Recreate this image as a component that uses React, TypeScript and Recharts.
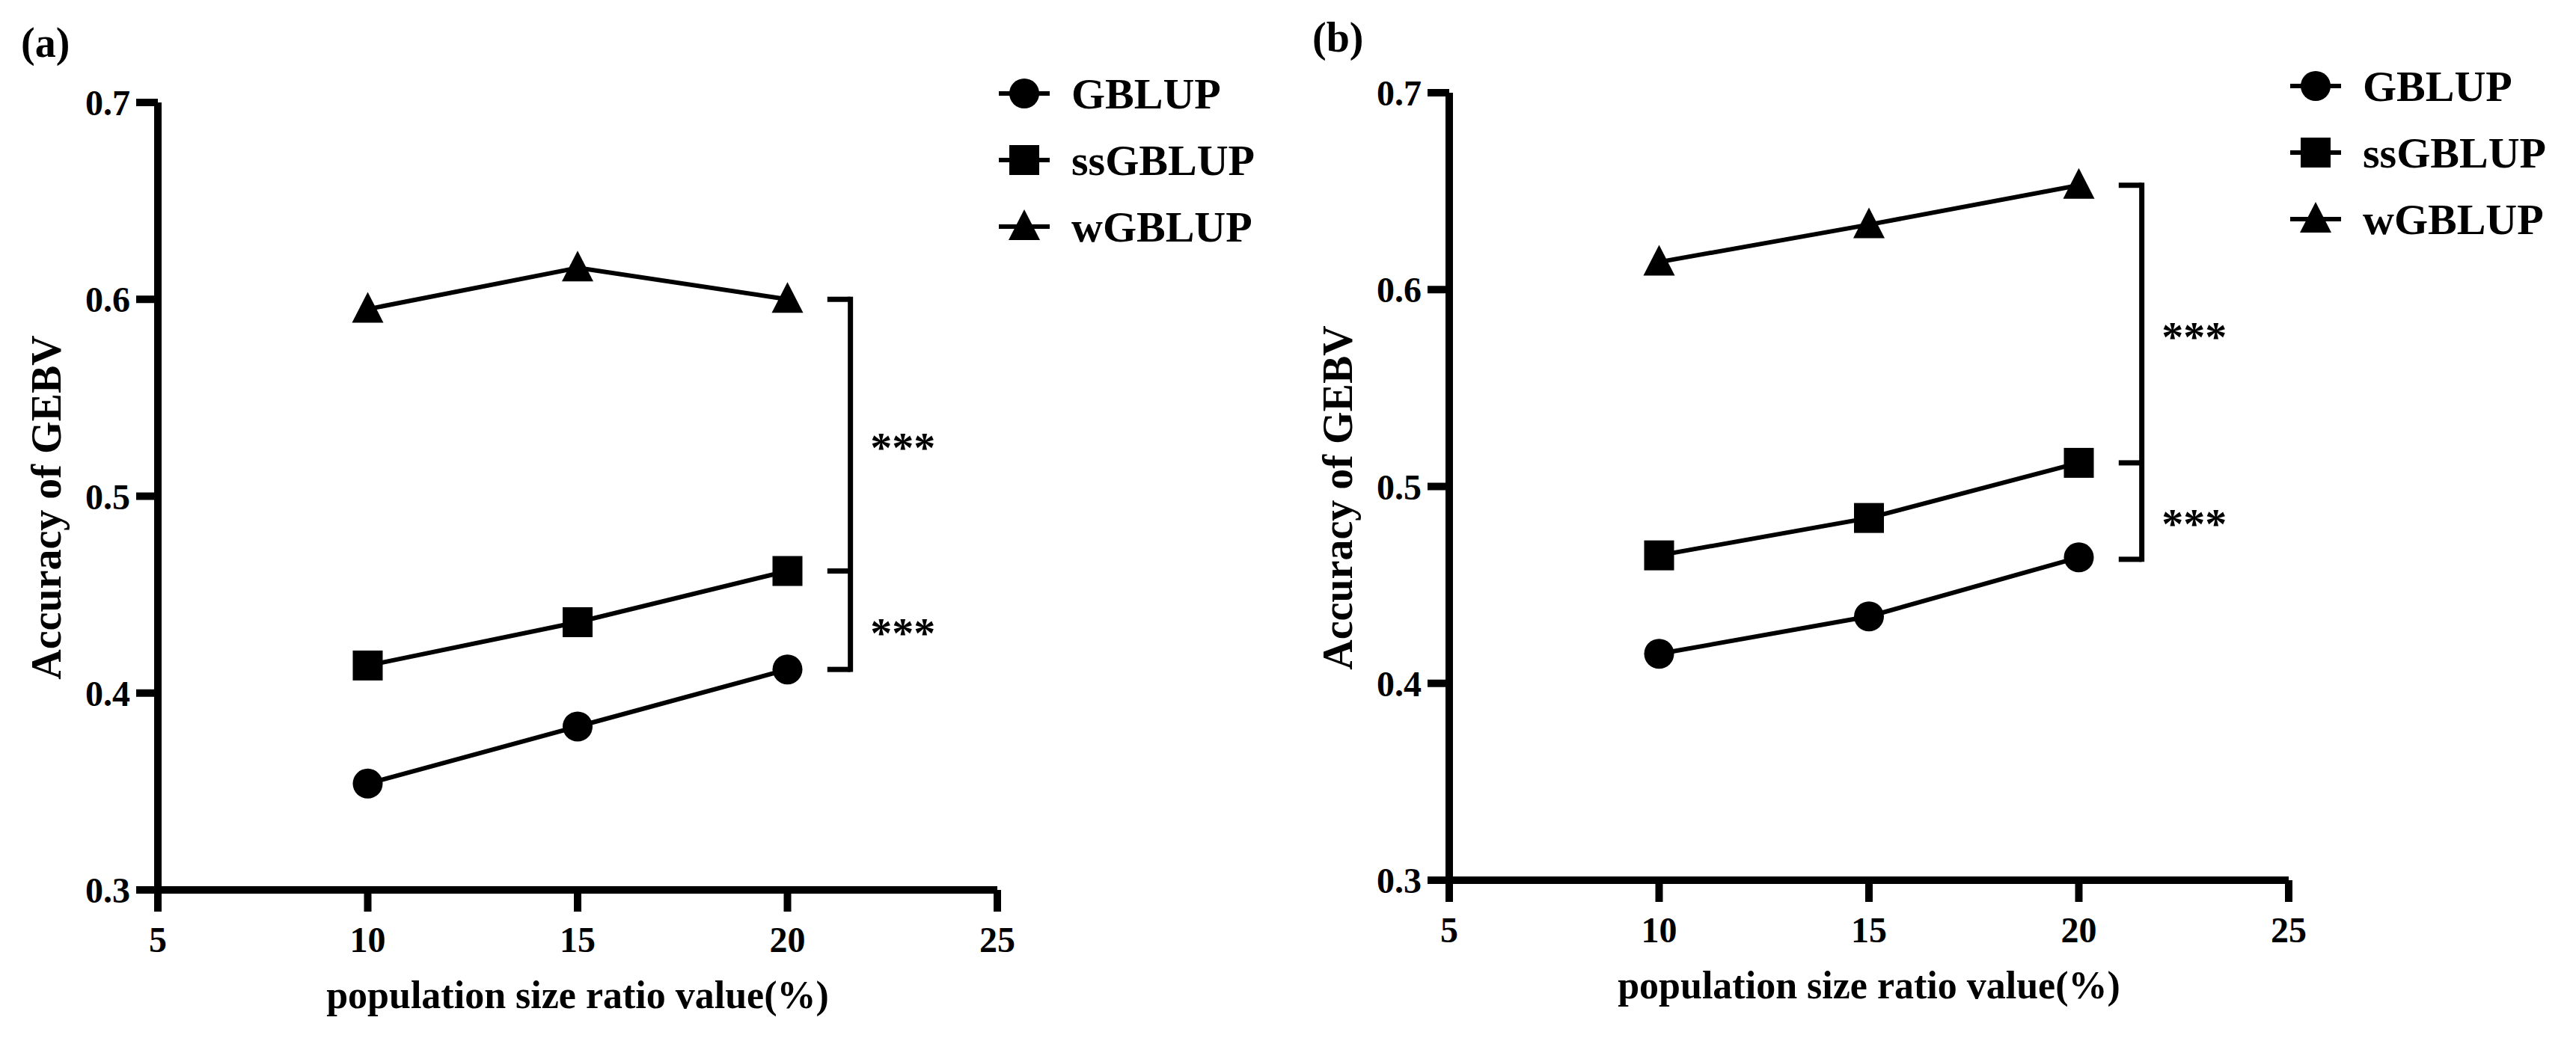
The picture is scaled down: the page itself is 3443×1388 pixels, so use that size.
import React from 'react';
import { LineChart, Line, XAxis, YAxis, Legend, ReferenceLine, ReferenceDot, Label } from 'recharts';

// ---- data ----
const ratios = [10, 15, 20];
const xTicks = [5, 10, 15, 20, 25];
const yTicks = [0.3, 0.4, 0.5, 0.6, 0.7];
const seriesNames = ['GBLUP', 'ssGBLUP', 'wGBLUP'];

const gblupA = [0.354, 0.383, 0.412];
const ssgblupA = [0.414, 0.436, 0.462];
const wgblupA = [0.595, 0.616, 0.6];

const gblupB = [0.415, 0.434, 0.464];
const ssgblupB = [0.465, 0.484, 0.512];
const wgblupB = [0.614, 0.633, 0.653];

// significance bracket levels (top, middle, bottom)
const bracketA = [0.6, 0.462, 0.412];
const bracketB = [0.653, 0.512, 0.463];
const starText = '***';
const xTitle = 'population size ratio value(%)';
const yTitle = 'Accuracy of GEBV';

const FONT = '"Liberation Serif", "Times New Roman", serif';
const shapes = ['circle', 'square', 'triangle'];

function marker(shape: string, cx: number, cy: number, key?: any) {
  if (shape === 'circle') return <circle key={key} cx={cx} cy={cy} r={20} fill="#000" />;
  if (shape === 'square') return <rect key={key} x={cx - 20} y={cy - 20} width={40} height={40} fill="#000" />;
  return (
    <polygon
      key={key}
      points={`${cx},${cy - 23} ${cx - 21},${cy + 18} ${cx + 21},${cy + 18}`}
      fill="#000"
    />
  );
}

const makeDot = (shape: string) => (props: any) => {
  const { cx, cy, index } = props;
  if (cx == null || cy == null) return <g key={`d${index}`} />;
  return marker(shape, cx, cy, `d${shape}${index}`);
};

const renderLegend = () => (
  <svg width={560} height={270} style={{ overflow: 'visible' }}>
    {seriesNames.map((n, i) => {
      const cy = 55 + i * 89;
      return (
        <g key={n}>
          <line x1={15} x2={83} y1={cy} y2={cy} stroke="#000" strokeWidth={6} />
          {marker(shapes[i], 49, cy)}
          <text
            x={112}
            y={cy + 20}
            fontFamily={FONT}
            fontWeight="bold"
            fontSize={58}
            fill="#000"
          >
            {n}
          </text>
        </g>
      );
    })}
  </svg>
);

const XTitle = (props: any) => {
  const vb = props.viewBox || {};
  return (
    <text
      x={vb.x + vb.width / 2}
      y={vb.y + 158}
      textAnchor="middle"
      fontFamily={FONT}
      fontWeight="bold"
      fontSize={52}
      fill="#000"
    >
      {xTitle}
    </text>
  );
};

const YTitle = (props: any) => {
  const vb = props.viewBox || {};
  const cx = vb.x + vb.width - 149;
  const cy = vb.y + vb.height / 2 + 15;
  return (
    <text
      x={cx}
      y={cy}
      transform={`rotate(-90 ${cx} ${cy})`}
      textAnchor="middle"
      dominantBaseline="central"
      fontFamily={FONT}
      fontWeight="bold"
      fontSize={56}
      fill="#000"
    >
      {yTitle}
    </text>
  );
};

const tickStyle = { fill: '#000', fontSize: 48, fontWeight: 'bold', fontFamily: FONT };

type PanelProps = {
  left: number;
  plotTop: number;
  plotBottom: number;
  series: number[][];
  brackets: number[];
  legendTop: number;
  tag: string;
  tagTop: number;
};

function Panel({ left, plotTop, plotBottom, series, brackets, legendTop, tag, tagTop }: PanelProps) {
  const W = 1700;
  const H = 1388;
  const data = ratios.map((r, i) => ({
    ratio: r,
    GBLUP: series[0][i],
    ssGBLUP: series[1][i],
    wGBLUP: series[2][i],
  }));
  const [bTop, bMid, bBot] = brackets;
  const xs = 20.95;
  const xv = 21.5;
  const xStar = 22.75;
  const bl = { stroke: '#000', strokeWidth: 7 };
  const starLabel = {
    value: starText,
    position: 'center' as const,
    fontSize: 58,
    fontWeight: 'bold',
    fill: '#000',
    fontFamily: FONT,
  };
  const axisStyle = { stroke: '#000', strokeWidth: 10 };
  return (
    <div style={{ position: 'absolute', left, top: 0, width: W, height: H }}>
      <div
        style={{
          position: 'absolute',
          left: 28,
          top: tagTop,
          fontFamily: FONT,
          fontWeight: 'bold',
          fontSize: 56,
          lineHeight: 1,
          color: '#000',
        }}
      >
        {tag}
      </div>
      <LineChart
        width={W}
        height={H}
        data={data}
        margin={{ top: plotTop, right: W - 1333, left: 0, bottom: H - plotBottom - 170 }}
      >
        <XAxis
          dataKey="ratio"
          type="number"
          domain={[5, 25]}
          ticks={xTicks}
          allowDataOverflow
          tick={tickStyle}
          tickSize={29}
          tickMargin={20}
          height={170}
          stroke="#000"
          strokeWidth={10}
          axisLine={axisStyle}
          tickLine={axisStyle}
        >
          <Label content={XTitle} />
        </XAxis>
        <YAxis
          type="number"
          domain={[0.3, 0.7]}
          ticks={yTicks}
          allowDataOverflow
          width={211}
          tick={tickStyle}
          tickSize={29}
          tickMargin={8}
          stroke="#000"
          strokeWidth={10}
          tickFormatter={(v: number) => v.toFixed(1)}
          axisLine={axisStyle}
          tickLine={axisStyle}
        >
          <Label content={YTitle} />
        </YAxis>
        <Legend
          layout="vertical"
          align="center"
          verticalAlign="middle"
          content={renderLegend}
          wrapperStyle={{ position: 'absolute', left: 1320, top: legendTop, width: 560, height: 270 }}
        />
        {seriesNames.map((n, i) => (
          <Line
            key={n}
            dataKey={n}
            name={n}
            stroke="#000"
            strokeWidth={6}
            dot={makeDot(shapes[i])}
            activeDot={false}
            isAnimationActive={false}
          />
        ))}
        <ReferenceLine segment={[{ x: xs, y: bTop }, { x: xv, y: bTop }]} {...bl} />
        <ReferenceLine segment={[{ x: xs, y: bMid }, { x: xv, y: bMid }]} {...bl} />
        <ReferenceLine segment={[{ x: xs, y: bBot }, { x: xv, y: bBot }]} {...bl} />
        <ReferenceLine segment={[{ x: xv, y: bTop + 0.0013 }, { x: xv, y: bBot - 0.0013 }]} {...bl} />
        <ReferenceDot
          x={xStar}
          y={(bTop + bMid) / 2 - 0.006}
          r={0}
          fill="none"
          stroke="none"
          label={starLabel}
        />
        <ReferenceDot
          x={xStar}
          y={(bMid + bBot) / 2 - 0.006}
          r={0}
          fill="none"
          stroke="none"
          label={starLabel}
        />
      </LineChart>
    </div>
  );
}

export default function App() {
  return (
    <div style={{ position: 'absolute', left: 0, top: 0, width: 3443, height: 1388, background: '#fff', overflow: 'hidden' }}>
      <Panel
        left={0}
        plotTop={137}
        plotBottom={1190}
        series={[gblupA, ssgblupA, wgblupA]}
        brackets={bracketA}
        legendTop={70}
        tag="(a)"
        tagTop={29}
      />
      <Panel
        left={1726}
        plotTop={124}
        plotBottom={1177}
        series={[gblupB, ssgblupB, wgblupB]}
        brackets={bracketB}
        legendTop={60}
        tag="(b)"
        tagTop={22}
      />
    </div>
  );
}
